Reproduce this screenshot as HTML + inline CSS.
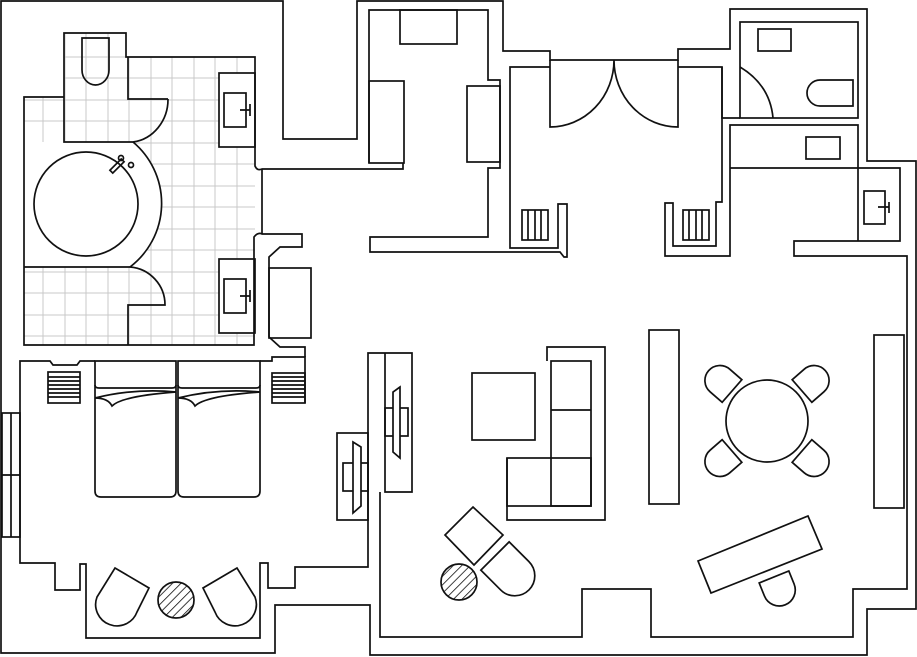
<!DOCTYPE html>
<html><head><meta charset="utf-8"><style>
html,body{margin:0;padding:0;background:#fff;width:917px;height:657px;overflow:hidden}
svg{display:block}
</style></head><body>
<svg width="917" height="657" viewBox="0 0 917 657" xmlns="http://www.w3.org/2000/svg">
<defs>
<clipPath id="bath"><path d="M64,33 H126 V57 H255 V345 H24 V97 H64 Z"/></clipPath>
<pattern id="hatch" width="6" height="6" patternUnits="userSpaceOnUse" patternTransform="rotate(45)">
<line x1="0" y1="0" x2="0" y2="6" stroke="#111" stroke-width="1.6"/></pattern>
</defs>
<rect width="917" height="657" fill="#fff"/>
<g clip-path="url(#bath)" stroke="#c8c8c8" stroke-width="1">
<path d="M43,0V360M65,0V360M86,0V360M108,0V360M129,0V360M151,0V360M172,0V360M194,0V360M215,0V360M237,0V360
M0,57H260M0,78H260M0,100H260M0,121H260M0,143H260M0,164H260M0,186H260M0,207H260M0,229H260M0,250H260M0,272H260M0,293H260M0,315H260M0,336H260"/>
</g>
<path d="M24,142 H133 A80,80 0 0 1 130,267 H24 Z" fill="#fff"/>
<rect x="219" y="73" width="36" height="74" fill="#fff"/>
<rect x="219" y="259" width="36" height="74" fill="#fff"/>

<g fill="none" stroke="#111" stroke-width="1.7" stroke-linejoin="miter">
<path d="M1,1 H283 V139 H357 V1 H503 V51 H550 V60 H678 V49 H730 V9 H867 V161 H916 V609 H867 V655 H370 V605 H275 V653 H1 Z"/>
<path d="M64,97 V33 H126 V57 H255 V166 Q257,171 262,169 H403 V163"/>
<path d="M64,97 H24 V345 H254 V237 Q258,232 262,234 H302 V247 H280 L269,257 V337 L280,347 H305 V357"/>
<path d="M262,169 V234"/>
<path d="M64,97 V142 H133"/>
<path d="M128,57 V99 H168"/>
<path d="M168,99 A40,43 0 0 1 133,142"/>
<path d="M133,142 A80,80 0 0 1 130,267"/>
<path d="M24,267 H130"/>
<path d="M130,267 A38,38 0 0 1 165,305 H128 V345"/>
<circle cx="86" cy="204" r="52"/>
<rect x="115" y="158" width="4" height="16" transform="rotate(45 117 166)"/>
<circle cx="121" cy="158" r="2.5"/><circle cx="131" cy="165" r="2.5"/>
<path d="M82,38 H109 V70 A13.5,15 0 0 1 82,70 Z"/>
<rect x="219" y="73" width="36" height="74"/><rect x="224" y="93" width="22" height="34"/><path d="M240,110 H250 M250,104 V116"/>
<rect x="219" y="259" width="36" height="74"/><rect x="224" y="279" width="22" height="34"/><path d="M240,296 H250 M250,290 V302"/>
<rect x="269" y="268" width="42" height="70"/>
<path d="M95,361 H80 L77,365 H53 L50,361 H20 V563 H55 V590 H80 V564 H86 V638 H260 V563 H268 V588 H295 V567 H368 V353 H412 V492 H385 V353"/>
<path d="M380,492 V637 H582 V589 H651 V637 H853 V589 H907 V256 H794 V241 H900 V168 H730"/>
<path d="M260,361 H272 V357 H305 V403"/>
<rect x="2" y="413" width="18" height="124"/><path d="M11,413 V537 M2,475 H20"/>
<path d="M95,361 V491 Q95,497 101,497 H170 Q176,497 176,491 V361 Z"/>
<path d="M178,361 V491 Q178,497 184,497 H254 Q260,497 260,491 V361 Z"/>
<path d="M95,385 Q95,388 99,388 H172 Q176,388 176,385 M178,385 Q178,388 182,388 H256 Q260,388 260,385"/>
<path d="M95,398 Q135,388 176,392 M95,398 Q108,398 112,406 Q122,396 176,392"/>
<path d="M178,398 Q218,388 260,392 M178,398 Q191,398 195,406 Q205,396 260,392"/>
<rect x="48" y="372" width="32" height="31"/>
<path d="M48,377H80M48,381H80M48,385H80M48,389H80M48,393H80M48,397H80"/>
<rect x="272" y="373" width="33" height="30"/>
<path d="M272,377H305M272,381H305M272,385H305M272,389H305M272,393H305M272,397H305"/>
<rect x="337" y="433" width="31" height="87"/>
<rect x="343" y="463" width="25" height="28"/>
<path d="M353,442 L361,447 V506 L353,513 Z" fill="#fff"/>
<rect x="385" y="408" width="23" height="28"/>
<path d="M400,387 L393,392 V452 L400,458 Z" fill="#fff"/>
<path d="M115,568 L149,588 L137,612 A21,21 0 0 1 97,597 Z"/>
<path d="M237,568 L203,588 L215,612 A21,21 0 0 0 255,597 Z"/>
<circle cx="176" cy="600" r="18" fill="url(#hatch)"/>
<path d="M369,163 V10 H488 V80 H500 V168 H488 V237 H370 V252 H560 L564,257 H567 V204 H558 V248 H510 V67 H550"/>
<rect x="400" y="10" width="57" height="34"/>
<rect x="369" y="81" width="35" height="82"/>
<rect x="467" y="86" width="33" height="76"/>
<rect x="522" y="210" width="26" height="30"/><path d="M528,210V240M535,210V240M541,210V240"/>
<path d="M550,60 V127 A64,67 0 0 0 614,60 A64,67 0 0 0 678,127 V60"/>
<path d="M678,67 H722 V202 H716 V246 H673 V203 H665 V256 H730 V125 H858 V241"/>
<rect x="683" y="210" width="26" height="30"/><path d="M689,210V240M696,210V240M702,210V240"/>
<rect x="740" y="22" width="118" height="96"/>
<path d="M722,67 V118 H740"/>
<path d="M740,67 Q770,85 773,118"/>
<rect x="758" y="29" width="33" height="22"/>
<path d="M853,80 V106 H820 A13,13 0 0 1 820,80 Z"/>
<rect x="806" y="137" width="34" height="22"/>
<rect x="864" y="191" width="21" height="33"/><path d="M878,207 H889 M889,202 V213"/>
<rect x="472" y="373" width="63" height="67"/>
<path d="M547,361 V347 H605 V520 H507 V458"/>
<rect x="551" y="361" width="40" height="145"/>
<path d="M551,410 H591"/>
<rect x="507" y="458" width="84" height="48"/>
<rect x="649" y="330" width="30" height="174"/>
<rect x="874" y="335" width="30" height="173"/>
<circle cx="767" cy="421" r="41"/>
<g transform="translate(732,391) rotate(41)"><path d="M0,-15 H-16 A15,15 0 0 0 -16,15 H0 Z"/></g>
<g transform="translate(802,391) rotate(139)"><path d="M0,-15 H-16 A15,15 0 0 0 -16,15 H0 Z"/></g>
<g transform="translate(732,451) rotate(-41)"><path d="M0,-15 H-16 A15,15 0 0 0 -16,15 H0 Z"/></g>
<g transform="translate(802,451) rotate(-139)"><path d="M0,-15 H-16 A15,15 0 0 0 -16,15 H0 Z"/></g>
<path d="M698,561 L808,516 L822,549 L711,593 Z"/>
<g transform="translate(774,577) rotate(-112)"><path d="M0,-16 H-14 A16,16 0 0 0 -14,16 H0 Z"/></g>
<path d="M473,507 L503,535 L474,565 L445,535 Z"/>
<g transform="translate(495,556) rotate(225)"><path d="M0,-20 H-28 A20,20 0 0 0 -28,20 H0 Z"/></g>
<circle cx="459" cy="582" r="18" fill="url(#hatch)"/>
</g>
</svg>
</body></html>
